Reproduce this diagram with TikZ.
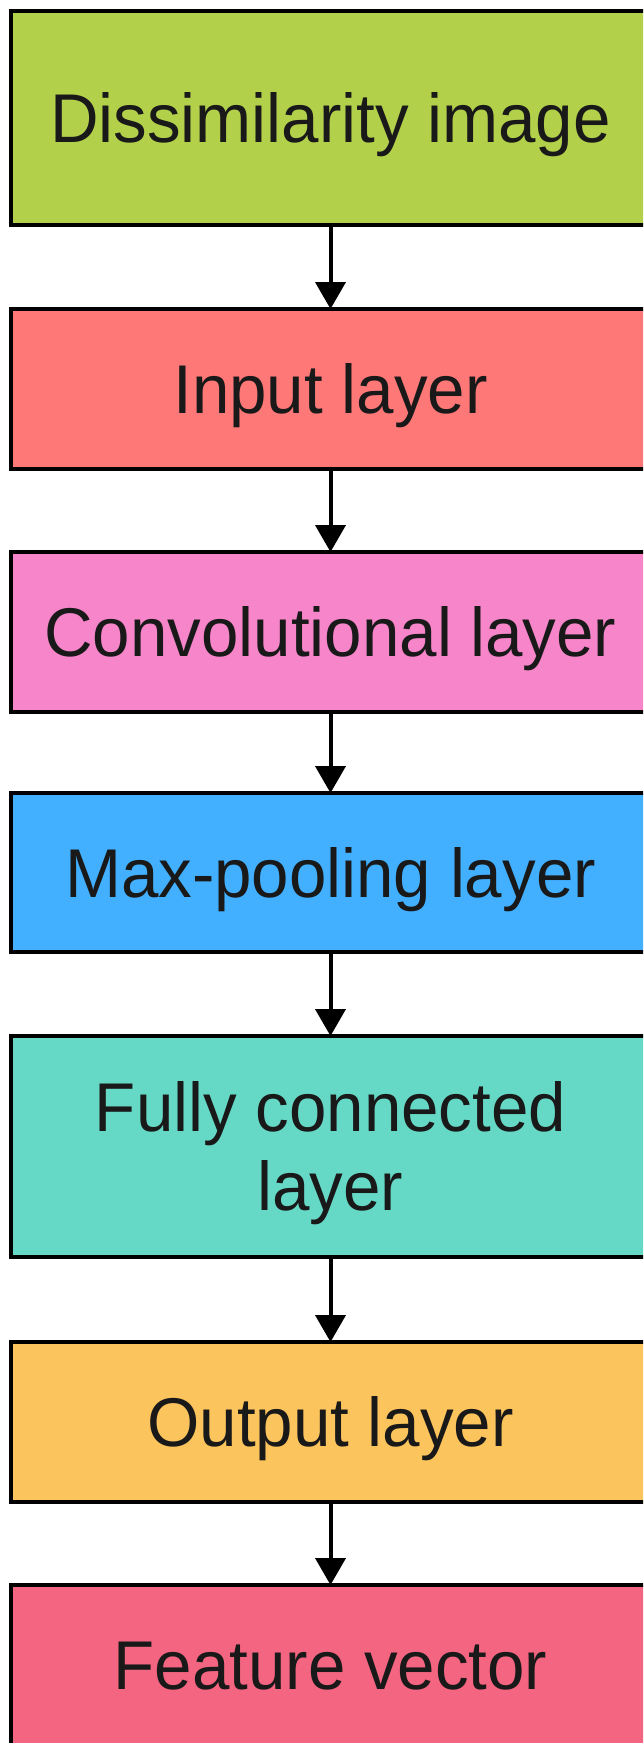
\documentclass[tikz,border=0pt]{standalone}
\usepackage{fontspec}
\setmainfont{Liberation Sans}
\newfontfamily\boxfont[FakeStretch=0.975]{Liberation Sans}
\usetikzlibrary{arrows.meta}
\definecolor{cLime}{HTML}{B3D04B}
\definecolor{cSalmon}{HTML}{FF7878}
\definecolor{cPink}{HTML}{F685C9}
\definecolor{cBlue}{HTML}{42B0FF}
\definecolor{cTeal}{HTML}{66D8C6}
\definecolor{cOrange}{HTML}{FCC45C}
\definecolor{cRose}{HTML}{F46581}
\tikzset{
  layerbox/.style={draw=black, line width=4pt, rectangle, outer sep=0pt,
    minimum width=640pt, inner sep=0pt, align=center,
    font=\boxfont\fontsize{69}{79}\selectfont, text=black!90,
    text height=49.4pt, text depth=0pt},
  flowarrow/.style={draw=black, line width=4pt,
    -{Triangle[width=30pt,length=27pt]}}
}
\begin{document}
\begin{tikzpicture}[x=1pt,y=-1pt]
\clip (0,0) rectangle (643,1743);
\fill[white] (0,0) rectangle (643,1743);
\node[layerbox, fill=cLime,   minimum height=214pt] (b1) at (330.5,117.5) {Dissimilarity image};
\node[layerbox, fill=cSalmon, minimum height=160pt] (b2) at (330.5,389) {Input layer};
\node[layerbox, fill=cPink,   minimum height=160pt] (b3) at (330.5,632) {Convolutional layer};
\node[layerbox, fill=cBlue,   minimum height=159pt] (b4) at (330.5,872.5) {Max-pooling layer};
\node[layerbox, fill=cTeal,   minimum height=221pt, text height=128.4pt] (b5) at (330.5,1146.5) {Fully connected\\layer};
\node[layerbox, fill=cOrange, minimum height=160pt] (b6) at (330.5,1422) {Output layer};
\node[layerbox, fill=cRose,   minimum height=160pt] (b7) at (330.5,1665) {Feature vector};
\draw[flowarrow] (b1) -- (b2);
\draw[flowarrow] (b2) -- (b3);
\draw[flowarrow] (b3) -- (b4);
\draw[flowarrow] (b4) -- (b5);
\draw[flowarrow] (b5) -- (b6);
\draw[flowarrow] (b6) -- (b7);
\end{tikzpicture}
\end{document}
